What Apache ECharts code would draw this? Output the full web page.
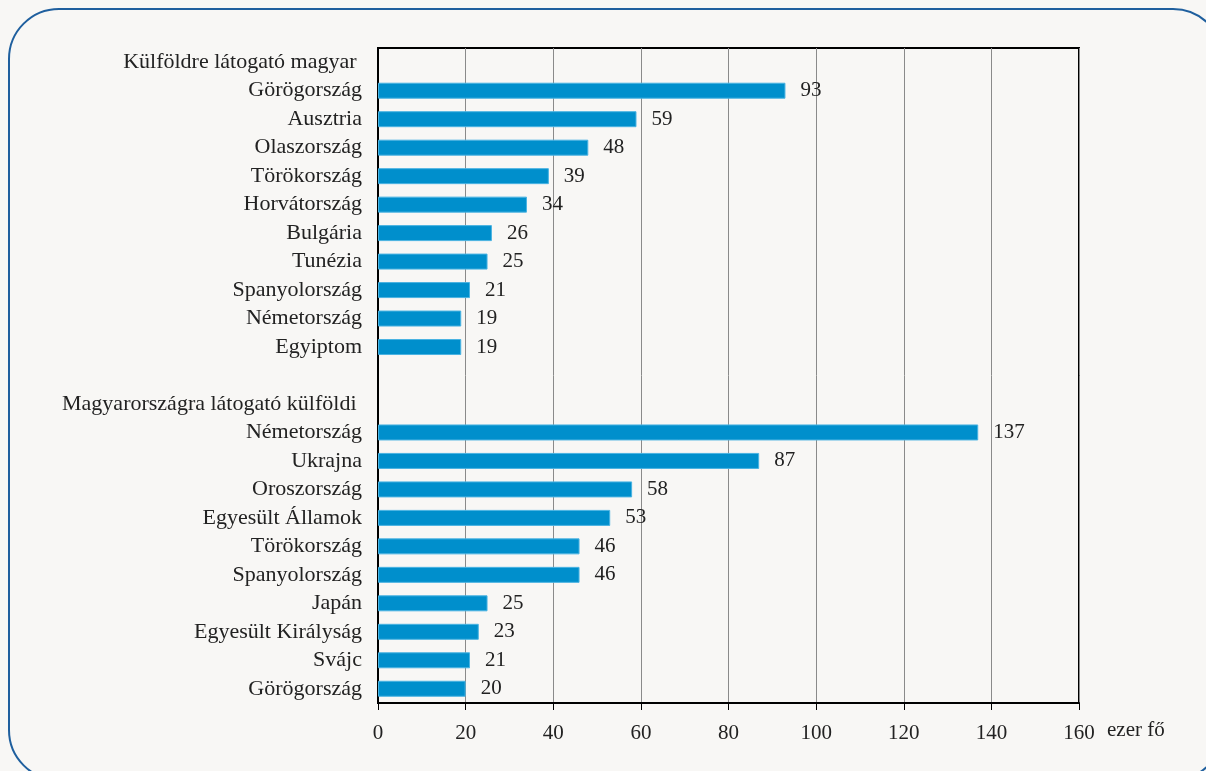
<!DOCTYPE html>
<html><head><meta charset="utf-8">
<script src="https://cdn.jsdelivr.net/npm/echarts@6/dist/echarts.min.js"></script>
<style>html,body{margin:0;padding:0;background:#f8f7f5;}#c{width:1206px;height:771px;}</style>
</head><body><div id="c"></div>
<script>
const categories = [
  'Külföldre látogató magyar ',
  'Görögország','Ausztria','Olaszország','Törökország','Horvátország','Bulgária','Tunézia','Spanyolország','Németország','Egyiptom',
  '',
  'Magyarországra látogató külföldi ',
  'Németország','Ukrajna','Oroszország','Egyesült Államok','Törökország','Spanyolország','Japán','Egyesült Királyság','Svájc','Görögország'
];
const values = [
  null,
  93,59,48,39,34,26,25,21,19,19,
  null,
  null,
  137,87,58,53,46,46,25,23,21,20
];
const xTicks = [0,20,40,60,80,100,120,140,160];
const unitLabel = 'ezer fő';

const FONT = 'Liberation Serif';
const chart = echarts.init(document.getElementById('c'));
chart.setOption({
  backgroundColor: '#f8f7f5',
  animation: false,
  graphic: [
    {type:'rect', shape:{x:9,y:9,width:1214,height:771,r:50}, style:{fill:'none',stroke:'#1f5f9e',lineWidth:2}, z:-1},
    {type:'text', left:1107, top:720, style:{text:unitLabel, font:'21px "Liberation Serif"', fill:'#222'}}
  ],
  grid: {left:378, right:127, top:48, bottom:68, show:true, borderColor:'#000', borderWidth:2, backgroundColor:'transparent'},
  xAxis: {
    type:'value', min:0, max:160, interval:20,
    axisLine:{show:true, lineStyle:{color:'#000', width:2}},
    axisTick:{show:true, length:7, lineStyle:{color:'#000'}},
    axisLabel:{fontFamily:FONT, fontSize:21, color:'#222', margin:20,
      formatter: v => xTicks.includes(v) ? String(v) : ''},
    splitLine:{show:true, lineStyle:{color:'#8a8a8a', width:1}}
  },
  yAxis: {
    type:'category', data:categories, inverse:true,
    axisLine:{show:true, lineStyle:{color:'#000', width:2}},
    axisTick:{show:false},
    axisLabel:{interval:0, fontFamily:FONT, fontSize:22, color:'#222', margin:16}
  },
  series: [{
    type:'bar', data:values, barWidth:16,
    itemStyle:{color:'#008fcc', borderColor:'#4ab3e2', borderWidth:1},
    label:{show:true, position:'right', distance:15, fontFamily:FONT, fontSize:21, color:'#222'}
  }]
});
</script></body></html>
